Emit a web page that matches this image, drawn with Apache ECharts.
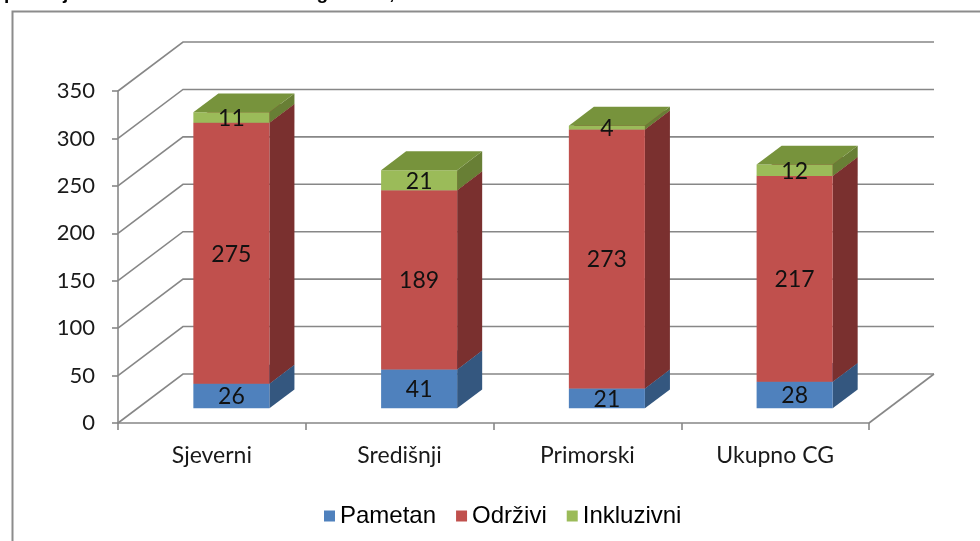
<!DOCTYPE html>
<html>
<head>
<meta charset="utf-8">
<script src="https://cdn.jsdelivr.net/npm/echarts@6/dist/echarts.min.js"></script>
<style>
html,body{margin:0;padding:0;background:#fff;}
#chart{width:980px;height:541px;}
</style>
</head>
<body>
<div id="chart"></div>
<script>
// ---- data ----
const categories = ['Sjeverni', 'Središnji', 'Primorski', 'Ukupno CG'];
const seriesNames = ['Pametan', 'Održivi', 'Inkluzivni'];
const pametan = [26, 41, 21, 28];
const odrzivi = [275, 189, 273, 217];
const inkluzivni = [11, 21, 4, 12];
const yTicks = [0, 50, 100, 150, 200, 250, 300, 350];
const titleText = 'po broju u okviru sva tri stuba u regionima,';

// ---- style constants ----
const DX = 65, DY = -49;          // full depth of the 3D box (pixels)
const FRONT_F = 0.30, DEPTH_F = 0.385, BAR_FRAC = 0.405;
const gridColor = '#878787';
const palette = [
  { front: '#4F81BD', side: '#34577F', top: '#3E6797' },
  { front: '#C0504D', side: '#7A302F', top: '#953B39' },
  { front: '#9BBB59', side: '#687F35', top: '#77933C' }
];
const labelFont = 'Lato, "Open Sans", sans-serif';

const valueSets = [pametan, odrzivi, inkluzivni];
const stacked = valueSets.map((vals, si) => vals.map((v, ci) => {
  let base = 0;
  for (let k = 0; k < si; k++) base += valueSets[k][ci];
  return [ci, base, v];
}));

function barRender(col) {
  return function (params, api) {
    const ci = api.value(0), base = api.value(1), val = api.value(2);
    const p0 = api.coord([ci, base]);
    const p1 = api.coord([ci, base + val]);
    const bw = api.size([1, 0])[0] * BAR_FRAC;
    const ox = DX * FRONT_F, oy = DY * FRONT_F;
    const bx = DX * DEPTH_F, by = DY * DEPTH_F;
    const xl = p0[0] - bw / 2 + ox, xr = p0[0] + bw / 2 + ox;
    const yb = p0[1] + oy, yt = p1[1] + oy;
    return {
      type: 'group',
      children: [
        { type: 'polygon', shape: { points: [[xr, yb], [xr + bx, yb + by], [xr + bx, yt + by], [xr, yt]] }, style: { fill: col.side } },
        { type: 'rect', shape: { x: xl, y: yt, width: xr - xl, height: yb - yt }, style: { fill: col.front } },
        { type: 'polygon', shape: { points: [[xl, yt], [xr, yt], [xr + bx, yt + by], [xl + bx, yt + by]] }, style: { fill: col.top } },
        { type: 'text', x: (xl + xr) / 2, y: (yt + yb) / 2 + 1, style: { text: String(val), fill: '#111', font: '23px ' + labelFont, align: 'center', verticalAlign: 'middle' }, z2: 10 }
      ]
    };
  };
}

function gridRender(params, api) {
  const cs = params.coordSys;
  const v = api.value(0);
  const y = api.coord([0, v])[1];
  const x0 = cs.x, x1 = cs.x + cs.width;
  const children = [{
    type: 'polyline',
    shape: { points: [[x0, y], [x0 + DX, y + DY], [x1 + DX, y + DY]] },
    style: { stroke: gridColor, lineWidth: 1.6, fill: null }
  }];
  if (v === 0) {
    children.push({ type: 'line', shape: { x1: x1, y1: y, x2: x1 + DX, y2: y + DY }, style: { stroke: gridColor, lineWidth: 1.6 } });
  }
  return { type: 'group', children: children };
}

const chart = echarts.init(document.getElementById('chart'), null, { renderer: 'canvas' });
const series = [{
  type: 'custom', name: 'grid3d', silent: true, z: 1,
  coordinateSystem: 'cartesian2d',
  data: yTicks.map(v => [v]),
  encode: { y: 0 },
  renderItem: gridRender
}];
stacked.forEach((d, si) => {
  series.push({
    type: 'custom', name: seriesNames[si], z: 3,
    coordinateSystem: 'cartesian2d',
    itemStyle: { color: palette[si].front },
    data: d,
    encode: { x: 0, y: 2 },
    renderItem: barRender(palette[si])
  });
});

chart.setOption({
  animation: false,
  backgroundColor: '#fff',
  grid: { left: 118, right: 111, top: 91, bottom: 118 },
  xAxis: {
    type: 'category', data: categories, boundaryGap: true,
    axisLine: { lineStyle: { color: gridColor, width: 1.6 } },
    axisTick: { show: true, length: 7, lineStyle: { color: gridColor, width: 1.6 } },
    axisLabel: { fontSize: 23, fontFamily: labelFont, color: '#1a1a1a', margin: 21 },
    splitLine: { show: false }
  },
  yAxis: {
    type: 'value', min: 0, max: 350, interval: 50,
    axisLine: { show: true, lineStyle: { color: gridColor, width: 1.6 } },
    axisTick: { show: true, length: 6, lineStyle: { color: gridColor, width: 1.6 } },
    axisLabel: { fontSize: 22, fontFamily: labelFont, color: '#1a1a1a', margin: 23 },
    splitLine: { show: false }
  },
  legend: {
    data: seriesNames, left: 319, top: 499,
    icon: 'rect', itemWidth: 11, itemHeight: 11, itemGap: 20,
    textStyle: { fontSize: 24, fontFamily: '"Liberation Sans", Arial, sans-serif', color: '#000' }
  },
  graphic: [
    { type: 'rect', left: 10, top: 9, shape: { width: 1000, height: 600 }, style: { fill: null, stroke: '#8c8c8c', lineWidth: 2 }, z: 0 },
    { type: 'text', x: 4, y: -16, style: { text: titleText, font: 'bold 19px "Liberation Sans", Arial, sans-serif', fill: '#000', verticalAlign: 'top' } }
  ],
  series: series
});
</script>
</body>
</html>
